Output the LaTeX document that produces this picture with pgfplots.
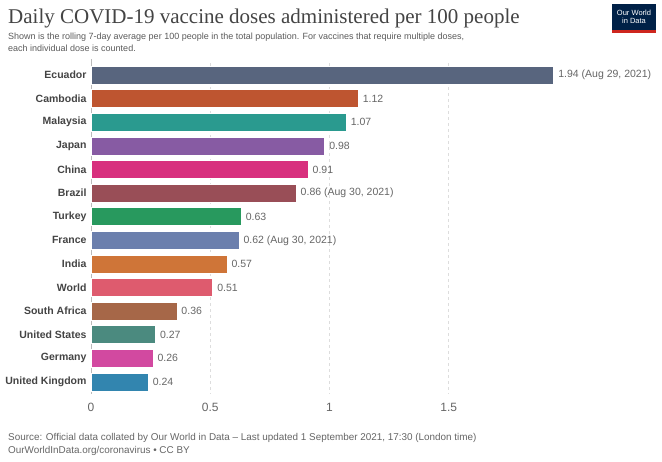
\documentclass[border=0pt]{standalone}
\usepackage{pgfplots}
\pgfplotsset{compat=1.18}
\usepackage{fontspec}
\setmainfont{Liberation Sans}
\newfontfamily\titlefont{Liberation Serif}
\definecolor{ctitle}{HTML}{444444}
\definecolor{csub}{HTML}{5B5B5B}
\definecolor{cval}{HTML}{666666}
\definecolor{cgrid}{HTML}{DDDDDD}
\definecolor{caxis}{HTML}{BBBBBB}
\definecolor{owidnavy}{HTML}{002147}
\definecolor{owidred}{HTML}{CE261E}
\definecolor{c1}{HTML}{58657E}
\definecolor{c2}{HTML}{BE5530}
\definecolor{c3}{HTML}{2A9A8F}
\definecolor{c4}{HTML}{875BA3}
\definecolor{c5}{HTML}{D8307E}
\definecolor{c6}{HTML}{994E57}
\definecolor{c7}{HTML}{28995E}
\definecolor{c8}{HTML}{6B7FAD}
\definecolor{c9}{HTML}{CF7538}
\definecolor{c10}{HTML}{DE5B6E}
\definecolor{c11}{HTML}{A66748}
\definecolor{c12}{HTML}{4B8A7F}
\definecolor{c13}{HTML}{D249A0}
\definecolor{c14}{HTML}{3285AF}
\begin{document}
\begin{tikzpicture}[x=1pt,y=1pt]
\path[use as bounding box,fill=white] (0,0) rectangle (662,461);
% title
\node[anchor=base west,inner sep=0,text=ctitle] at (8,437) {\titlefont\fontsize{21}{24}\selectfont Daily COVID-19 vaccine doses administered per 100 people};
\node[anchor=base west,inner sep=0,text=csub] at (8,421.5) {\fontsize{9}{11}\selectfont Shown is the rolling 7-day average per 100 people in the total population. For vaccines that require multiple doses,};
\node[anchor=base west,inner sep=0,text=csub] at (8,409) {\fontsize{9}{11}\selectfont each individual dose is counted.};
% logo
\fill[owidnavy] (612,431) rectangle (656,457);
\fill[owidred] (612,428) rectangle (656,431);
\node[text=white,align=center,inner sep=0,font=\fontsize{7.5}{8.5}\selectfont] at (634,444) {Our World\\in Data};
% footer
\node[anchor=base west,inner sep=0,text=cval] at (8,20) {\fontsize{9.9}{11}\selectfont Source: Official data collated by Our World in Data -- Last updated 1 September 2021, 17:30 (London time)};
\node[anchor=base west,inner sep=0,text=cval] at (8,8) {\fontsize{9.9}{11}\selectfont OurWorldInData.org/coronavirus \textbullet\ CC BY};
\begin{axis}[
  at={(91pt,67.2pt)}, anchor=south west, scale only axis,
  width=462.7pt, height=330.6pt,
  xmin=0, xmax=1.94, ymin=-0.5, ymax=13.5, y dir=reverse,
  xbar, bar width=18pt, bar shift=0pt,
  clip=false,
  separate axis lines,
  axis x line*=bottom, axis y line*=left,
  x axis line style={draw=none},
  y axis line style={draw=caxis, line width=0.8pt, shorten <=-4pt},
  major tick length=0pt,
  xtick={0,0.5,1,1.5}, xticklabels={0,0.5,1,1.5},
  xticklabel style={font=\fontsize{12}{14}\selectfont, text=cval, yshift=-6pt},
  xmajorgrids, grid style={cgrid, dashed, line width=0.6pt},
  ytick={0,...,13},
  yticklabels={Ecuador,Cambodia,Malaysia,Japan,China,Brazil,Turkey,France,India,World,South Africa,United States,Germany,United Kingdom},
  yticklabel style={font=\fontsize{10.5}{12}\selectfont\bfseries, text=ctitle, xshift=-1pt},
  point meta=explicit symbolic,
  nodes near coords,
  nodes near coords style={anchor=west, font=\fontsize{10.5}{12}\selectfont, text=cval, xshift=1pt},
  every axis plot/.append style={draw=white, line width=0.6pt},
]
\addplot[fill=c1] coordinates {(1.94,0) [1.94 (Aug 29, 2021)]};
\addplot[fill=c2] coordinates {(1.12,1) [1.12]};
\addplot[fill=c3] coordinates {(1.07,2) [1.07]};
\addplot[fill=c4] coordinates {(0.98,3) [0.98]};
\addplot[fill=c5] coordinates {(0.91,4) [0.91]};
\addplot[fill=c6] coordinates {(0.86,5) [0.86 (Aug 30, 2021)]};
\addplot[fill=c7] coordinates {(0.63,6) [0.63]};
\addplot[fill=c8] coordinates {(0.62,7) [0.62 (Aug 30, 2021)]};
\addplot[fill=c9] coordinates {(0.57,8) [0.57]};
\addplot[fill=c10] coordinates {(0.51,9) [0.51]};
\addplot[fill=c11] coordinates {(0.36,10) [0.36]};
\addplot[fill=c12] coordinates {(0.27,11) [0.27]};
\addplot[fill=c13] coordinates {(0.26,12) [0.26]};
\addplot[fill=c14] coordinates {(0.24,13) [0.24]};
\end{axis}
\end{tikzpicture}
\end{document}
